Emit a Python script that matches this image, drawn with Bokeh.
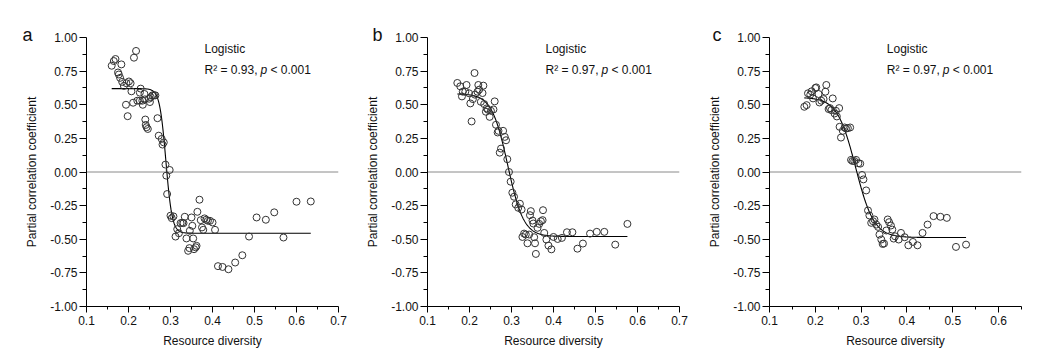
import numpy as np
from bokeh.plotting import figure
from bokeh.layouts import row
from bokeh.models import Span, Label, FixedTicker, NumeralTickFormatter, Title
from bokeh.embed import file_html
from bokeh.resources import INLINE

# ---------------- data ----------------
a_diversity = [0.160, 0.165, 0.169, 0.183, 0.175, 0.177, 0.180, 0.185, 0.189, 0.195,
               0.201, 0.205, 0.207, 0.194, 0.198, 0.211, 0.213, 0.218, 0.229, 0.227,
               0.221, 0.227, 0.233, 0.234, 0.238, 0.239, 0.249, 0.253, 0.257, 0.261,
               0.264, 0.251, 0.240, 0.241, 0.243, 0.246, 0.269, 0.272, 0.279, 0.281,
               0.284, 0.288, 0.290, 0.298, 0.292, 0.300, 0.303, 0.307, 0.312, 0.316,
               0.320, 0.324, 0.328, 0.331, 0.334, 0.338, 0.342, 0.345, 0.346, 0.350,
               0.352, 0.354, 0.356, 0.360, 0.362, 0.364, 0.369, 0.372, 0.375, 0.378,
               0.381, 0.385, 0.389, 0.394, 0.400, 0.406, 0.413, 0.424, 0.438, 0.454,
               0.471, 0.487, 0.505, 0.527, 0.547, 0.569, 0.600, 0.634]
a_partial_corr = [0.79, 0.825, 0.84, 0.80, 0.74, 0.725, 0.70, 0.67, 0.64, 0.66,
                  0.673, 0.66, 0.60, 0.50, 0.415, 0.515, 0.85, 0.90, 0.62, 0.59,
                  0.53, 0.53, 0.53, 0.50, 0.58, 0.54, 0.545, 0.556, 0.57, 0.57,
                  0.57, 0.52, 0.39, 0.35, 0.333, 0.32, 0.40, 0.27, 0.246, 0.204,
                  0.22, 0.055, -0.027, 0.015, -0.164, -0.325, -0.343, -0.33, -0.48, -0.425,
                  -0.455, -0.38, -0.378, -0.38, -0.333, -0.494, -0.586, -0.566, -0.437, -0.338,
                  -0.40, -0.494, -0.574, -0.56, -0.549, -0.296, -0.206, -0.358, -0.412, -0.43,
                  -0.345, -0.355, -0.363, -0.363, -0.375, -0.43, -0.70, -0.706, -0.723, -0.673,
                  -0.619, -0.48, -0.338, -0.355, -0.30, -0.487, -0.221, -0.219]

b_diversity = [0.171, 0.178, 0.182, 0.184, 0.193, 0.190, 0.199, 0.202, 0.205, 0.208,
               0.212, 0.213, 0.219, 0.221, 0.223, 0.227, 0.231, 0.233, 0.235, 0.239,
               0.241, 0.244, 0.248, 0.251, 0.257, 0.260, 0.263, 0.267, 0.269, 0.272,
               0.275, 0.280, 0.284, 0.287, 0.290, 0.294, 0.298, 0.302, 0.306, 0.310,
               0.316, 0.320, 0.324, 0.326, 0.330, 0.334, 0.338, 0.342, 0.344, 0.346,
               0.350, 0.352, 0.354, 0.356, 0.358, 0.362, 0.366, 0.370, 0.374, 0.375,
               0.378, 0.383, 0.388, 0.395, 0.400, 0.410, 0.420, 0.432, 0.445, 0.457,
               0.470, 0.487, 0.503, 0.521, 0.547, 0.576]
b_partial_corr = [0.662, 0.637, 0.562, 0.597, 0.647, 0.597, 0.585, 0.51, 0.376, 0.542,
                  0.736, 0.575, 0.597, 0.647, 0.612, 0.522, 0.587, 0.642, 0.505, 0.448,
                  0.473, 0.463, 0.41, 0.455, 0.465, 0.525, 0.351, 0.294, 0.306, 0.144,
                  0.174, 0.306, 0.261, 0.236, 0.095, 0.0, -0.072, -0.154, -0.184, -0.241,
                  -0.266, -0.236, -0.279, -0.483, -0.458, -0.465, -0.53, -0.465, -0.321, -0.291,
                  -0.361, -0.383, -0.485, -0.53, -0.609, -0.415, -0.386, -0.366, -0.358, -0.284,
                  -0.453, -0.502, -0.547, -0.575, -0.483, -0.498, -0.49, -0.448, -0.448, -0.57,
                  -0.532, -0.458, -0.445, -0.445, -0.54, -0.386]

c_diversity = [0.176, 0.181, 0.184, 0.189, 0.192, 0.195, 0.200, 0.202, 0.207, 0.209,
               0.213, 0.218, 0.222, 0.224, 0.229, 0.232, 0.235, 0.238, 0.242, 0.245,
               0.247, 0.252, 0.253, 0.256, 0.260, 0.264, 0.267, 0.271, 0.276, 0.278,
               0.281, 0.285, 0.289, 0.294, 0.298, 0.302, 0.305, 0.311, 0.315, 0.318,
               0.322, 0.326, 0.329, 0.333, 0.337, 0.340, 0.344, 0.347, 0.350, 0.355,
               0.358, 0.361, 0.365, 0.368, 0.371, 0.374, 0.382, 0.387, 0.395, 0.403,
               0.413, 0.423, 0.434, 0.445, 0.458, 0.473, 0.487, 0.507, 0.529]
c_partial_corr = [0.485, 0.497, 0.585, 0.575, 0.60, 0.547, 0.624, 0.629, 0.58, 0.517,
                  0.53, 0.542, 0.597, 0.647, 0.468, 0.475, 0.46, 0.547, 0.435, 0.455,
                  0.413, 0.475, 0.336, 0.256, 0.306, 0.331, 0.323, 0.326, 0.331, 0.09,
                  0.082, 0.082, 0.09, 0.065, 0.062, -0.022, -0.055, -0.137, -0.286, -0.323,
                  -0.378, -0.366, -0.353, -0.391, -0.408, -0.465, -0.502, -0.535, -0.532, -0.435,
                  -0.353, -0.373, -0.398, -0.428, -0.495, -0.478, -0.502, -0.453, -0.485, -0.545,
                  -0.52, -0.545, -0.453, -0.391, -0.328, -0.333, -0.341, -0.557, -0.54]

# logistic fit parameters (upper, lower, midpoint, scale)
a_fit = (0.62, -0.455, 0.289, 0.0075)
b_fit = (0.582, -0.48, 0.291, 0.019)
c_fit = (0.555, -0.487, 0.288, 0.020)

panel_letters = ["a", "b", "c"]
fit_r2 = ["0.93", "0.97", "0.97"]
x_max = [0.7, 0.7, 0.65]
x_tick_values = [[0.1, 0.2, 0.3, 0.4, 0.5, 0.6, 0.7],
                 [0.1, 0.2, 0.3, 0.4, 0.5, 0.6, 0.7],
                 [0.1, 0.2, 0.3, 0.4, 0.5, 0.6]]
y_tick_values = [-1.0, -0.75, -0.5, -0.25, 0.0, 0.25, 0.5, 0.75, 1.0]

FONT = "Liberation Sans"


def make_panel(i, xs, ys, fit, border_left, border_right):
    p = figure(frame_width=252, frame_height=269,
               x_range=(0.1, x_max[i]), y_range=(-1.0, 1.0),
               output_backend="svg", toolbar_location=None,
               min_border_left=border_left, min_border_right=border_right,
               min_border_top=37, min_border_bottom=50)
    p.outline_line_color = None
    p.grid.visible = False
    p.background_fill_color = "white"
    p.border_fill_color = "white"

    xt = x_tick_values[i]
    xminor = [round(v + 0.05, 3) for v in xt[:-1]]
    if x_max[i] > xt[-1]:
        xminor.append(round(xt[-1] + 0.05, 3))
    p.xaxis.ticker = FixedTicker(ticks=xt, minor_ticks=xminor)
    yminor = [v + 0.125 for v in y_tick_values[:-1]]
    p.yaxis.ticker = FixedTicker(ticks=y_tick_values, minor_ticks=yminor)
    p.xaxis.formatter = NumeralTickFormatter(format="0.0")
    p.yaxis.formatter = NumeralTickFormatter(format="0.00")

    for ax in (p.xaxis, p.yaxis):
        ax.axis_line_color = "black"
        ax.axis_line_width = 1
        ax.major_tick_line_color = "black"
        ax.minor_tick_line_color = "black"
        ax.major_tick_in = 0
        ax.minor_tick_in = 0
        ax.major_label_text_font = FONT
        ax.major_label_text_font_size = "12px"
        ax.major_label_text_color = "#111111"
        ax.axis_label_text_font = FONT
        ax.axis_label_text_font_size = "12px"
        ax.axis_label_text_font_style = "normal"
        ax.axis_label_text_color = "#111111"
    p.yaxis.major_tick_out = 7
    p.yaxis.minor_tick_out = 4
    p.xaxis.major_tick_out = 6
    p.xaxis.minor_tick_out = 3
    p.yaxis.major_label_standoff = 2
    p.xaxis.major_label_standoff = 3
    p.yaxis.axis_label_standoff = 8
    p.xaxis.axis_label_standoff = 6
    p.xaxis.axis_label = "Resource diversity"
    p.yaxis.axis_label = "Partial correlation coefficient"

    p.add_layout(Span(location=0, dimension="width", line_color="#8a8a8a",
                      line_width=1, level="underlay"))

    up, lo, mid, sc = fit
    fx = np.linspace(min(xs), max(xs), 400)
    fy = lo + (up - lo) / (1.0 + np.exp((fx - mid) / sc))
    p.line(fx, fy, line_color="black", line_width=1.1)

    p.scatter(xs, ys, size=7, marker="circle", fill_color=None,
              line_color="#333333", line_width=1)

    # annotation text
    lx = 0.381 if i < 2 else 0.356
    p.add_layout(Label(x=lx, y=0.913, text="Logistic", text_font=FONT,
                       text_font_size="12px", text_color="#111111",
                       text_baseline="alphabetic"))
    p.add_layout(Label(x=lx, y=0.762, text="R² = " + fit_r2[i] + ",", text_font=FONT,
                       text_font_size="12px", text_color="#111111",
                       text_baseline="alphabetic"))
    p.add_layout(Label(x=lx, y=0.762, x_offset=56, text="p", text_font=FONT,
                       text_font_size="12px", text_color="#111111",
                       text_font_style="italic", text_baseline="alphabetic"))
    p.add_layout(Label(x=lx, y=0.762, x_offset=66, text="< 0.001", text_font=FONT,
                       text_font_size="12px", text_color="#111111",
                       text_baseline="alphabetic"))
    # panel letter as a title placed above the frame
    letter_offsets = [-64, -55, -57]
    t = Title(text=panel_letters[i], align="left", offset=letter_offsets[i],
              text_font=FONT, text_font_size="18px", text_font_style="normal",
              text_color="#111111", standoff=-15, vertical_align="bottom")
    p.add_layout(t, "above")
    return p


pa = make_panel(0, a_diversity, a_partial_corr, a_fit, 86, 9)
pb = make_panel(1, b_diversity, b_partial_corr, b_fit, 80, 9)
pc = make_panel(2, c_diversity, c_partial_corr, c_fit, 81, 15)

layout = row(pa, pb, pc)
open("out.html", "w").write(file_html(layout, INLINE))
